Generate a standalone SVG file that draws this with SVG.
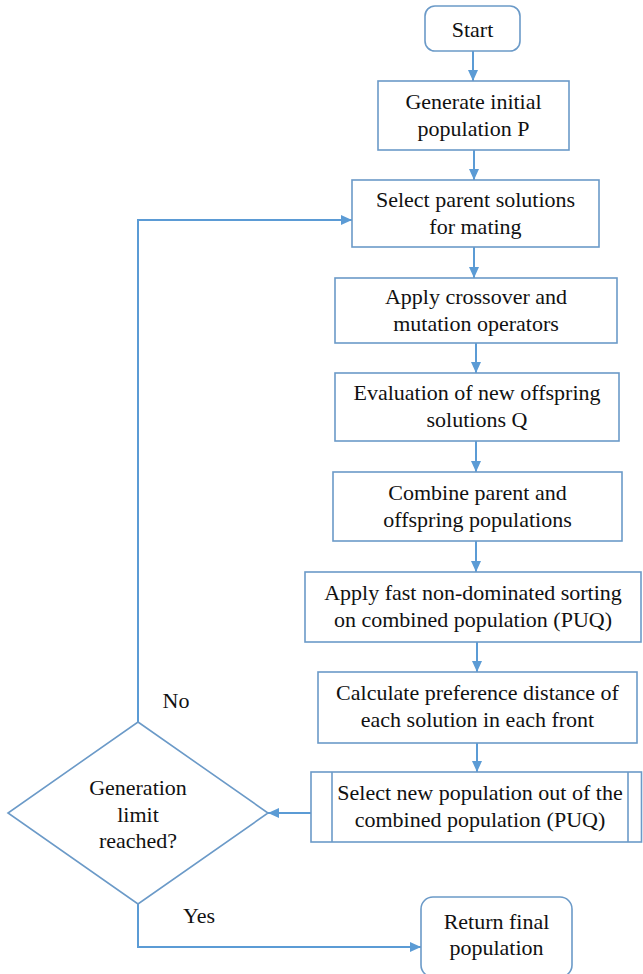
<svg xmlns="http://www.w3.org/2000/svg" width="643" height="974" viewBox="0 0 643 974">
<style>
.box{fill:#fff;stroke:#6B9AC8;stroke-width:1.6}
.t{font-family:"Liberation Serif","Times New Roman",serif;font-size:22px;fill:#111;text-anchor:middle}
.c{fill:none;stroke:#5B9BD5;stroke-width:2}
</style>
<defs>
<marker id="ah" markerUnits="userSpaceOnUse" markerWidth="12" markerHeight="12" refX="11" refY="5" orient="auto">
<path d="M0,0 L11,5 L0,10 Z" fill="#5B9BD5"/>
</marker>
</defs>
<g id="connectors">
<line class="c" x1="473" y1="51" x2="473" y2="81" marker-end="url(#ah)"/>
<line class="c" x1="474" y1="150" x2="474" y2="180" marker-end="url(#ah)"/>
<line class="c" x1="474" y1="247" x2="474" y2="278" marker-end="url(#ah)"/>
<line class="c" x1="476" y1="343" x2="476" y2="373" marker-end="url(#ah)"/>
<line class="c" x1="476" y1="441" x2="476" y2="472" marker-end="url(#ah)"/>
<line class="c" x1="476" y1="541" x2="476" y2="572" marker-end="url(#ah)"/>
<line class="c" x1="477" y1="642" x2="477" y2="672" marker-end="url(#ah)"/>
<line class="c" x1="477" y1="743" x2="477" y2="772" marker-end="url(#ah)"/>
<line class="c" x1="311" y1="813" x2="268" y2="813" marker-end="url(#ah)"/>
<polyline class="c" points="138,722 138,220 352,220" marker-end="url(#ah)"/>
<polyline class="c" points="138,904 138,947 421,947" marker-end="url(#ah)"/>
<text class="t" x="176" y="708">No</text>
<text class="t" x="199" y="923">Yes</text>
</g>
<g id="start">
<rect class="box" x="425" y="6" width="95" height="45" rx="10"/>
<text class="t" x="472.5" y="37">Start</text>
</g>
<g id="generate">
<rect class="box" x="378" y="81" width="191" height="69"/>
<text class="t" x="473.5" y="109">Generate initial</text>
<text class="t" x="473.5" y="136">population P</text>
</g>
<g id="select-parent">
<rect class="box" x="352" y="180" width="247" height="67"/>
<text class="t" x="475.5" y="207">Select parent solutions</text>
<text class="t" x="475.5" y="234">for mating</text>
</g>
<g id="crossover">
<rect class="box" x="335" y="278" width="282" height="65"/>
<text class="t" x="476" y="304">Apply crossover and</text>
<text class="t" x="476" y="331">mutation operators</text>
</g>
<g id="evaluation">
<rect class="box" x="335" y="373" width="284" height="68"/>
<text class="t" x="477" y="400">Evaluation of new offspring</text>
<text class="t" x="477" y="427">solutions Q</text>
</g>
<g id="combine">
<rect class="box" x="333" y="472" width="289" height="69"/>
<text class="t" x="477.5" y="500">Combine parent and</text>
<text class="t" x="477.5" y="527">offspring populations</text>
</g>
<g id="sorting">
<rect class="box" x="305" y="572" width="336" height="70"/>
<text class="t" x="473" y="600">Apply fast non-dominated sorting</text>
<text class="t" x="473" y="627">on combined population (PUQ)</text>
</g>
<g id="calculate">
<rect class="box" x="318" y="672" width="319" height="71"/>
<text class="t" x="477.5" y="700">Calculate preference distance of</text>
<text class="t" x="477.5" y="727">each solution in each front</text>
</g>
<g id="select-new">
<rect class="box" x="311" y="772" width="330.5" height="70"/>
<line class="box" x1="332" y1="772" x2="332" y2="842"/>
<line class="box" x1="628" y1="772" x2="628" y2="842"/>
<text class="t" x="480" y="800">Select new population out of the</text>
<text class="t" x="480" y="827">combined population (PUQ)</text>
</g>
<g id="decision">
<polygon class="box" points="138,722 268,813 138,904 8,813"/>
<text class="t" x="138" y="795">Generation</text>
<text class="t" x="138" y="822">limit</text>
<text class="t" x="138" y="848">reached?</text>
</g>
<g id="return">
<rect class="box" x="421" y="897" width="151" height="80" rx="12"/>
<text class="t" x="496.5" y="929">Return final</text>
<text class="t" x="496.5" y="955">population</text>
</g>
</svg>
